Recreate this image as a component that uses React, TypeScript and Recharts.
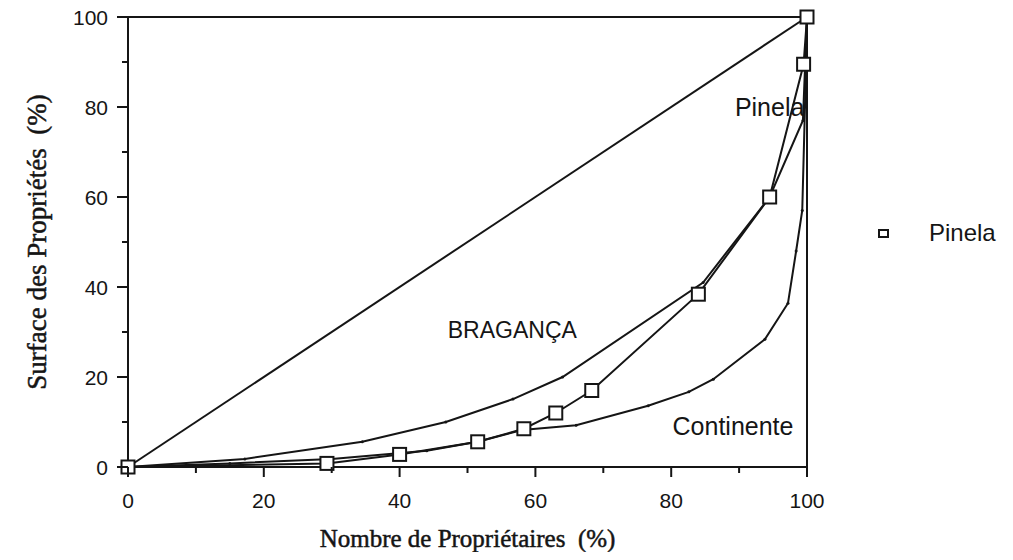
import { ComposedChart, Line, XAxis, YAxis, ReferenceLine, ReferenceDot, Legend } from "recharts";

// cumulative % of owners (x) vs cumulative % of surface (y)
const equalityOwners = [0, 100];
const equalitySurface = [0, 100];

const pinelaOwners = [0, 29.3, 40, 51.5, 58.3, 63, 68.3, 84, 94.5, 99.5, 100];
const pinelaSurface = [0, 0.8, 2.8, 5.6, 8.5, 12, 17, 38.4, 60, 89.5, 100];

const bragancaOwners = [0, 17.2, 34.5, 46.8, 56.7, 64, 84.7, 94.5, 99.4, 100];
const bragancaSurface = [0, 1.8, 5.6, 10, 15.1, 20, 41, 60, 77, 100];

const continenteOwners = [0, 15, 30, 44, 51.5, 58, 66, 76.6, 82.6, 86.2, 93.8, 97.2, 98.4, 99.3, 99.7, 100];
const continenteSurface = [0, 0.8, 1.8, 3.6, 5.6, 8.2, 9.3, 13.6, 16.7, 19.5, 28.4, 36.4, 48, 57, 80, 100];

const axisTicks = [0, 10, 20, 30, 40, 50, 60, 70, 80, 90, 100];

const zip = (xs: number[], ys: number[]) => xs.map((x, i) => ({ x, y: ys[i] }));

const ink = "#151515";
const sans = "'Liberation Sans', Arial, sans-serif";
const serif = "'Liberation Serif', 'Times New Roman', serif";

function YTick({ x, y, payload }: any) {
  const major = payload.value % 20 === 0;
  return (
    <g>
      <line x1={x} x2={x - (major ? 11 : 6)} y1={y} y2={y} stroke={ink} strokeWidth={2} />
      {major && (
        <text x={x - 20} y={y} textAnchor="end" dominantBaseline="central" fontFamily={sans} fontSize={21} fill={ink}>
          {payload.value}
        </text>
      )}
    </g>
  );
}

function XTick({ x, y, payload }: any) {
  const major = payload.value % 20 === 0;
  return (
    <g>
      <line x1={x} x2={x} y1={y} y2={y + (major ? 10 : 6)} stroke={ink} strokeWidth={2} />
      {major && (
        <text x={x} y={y + 33} textAnchor="middle" dominantBaseline="central" fontFamily={sans} fontSize={21} fill={ink}>
          {payload.value}
        </text>
      )}
    </g>
  );
}

function SquareDot(props: any) {
  const { cx, cy, index } = props;
  return <rect key={`sq-${index}`} x={cx - 6.5} y={cy - 6.5} width={13} height={13} fill="#fff" stroke={ink} strokeWidth={2} />;
}

const annotation = (value: string, size: number) => ({ value, position: "center" as const, fontFamily: sans, fontSize: size, fill: ink });

export default function App() {
  return (
    <div style={{ margin: -8, width: 1013, height: 560, background: "#fff" }}>
      <ComposedChart width={1013} height={560} margin={{ top: 17, right: 206, bottom: 33, left: 0 }}>
        <XAxis
          type="number"
          dataKey="x"
          domain={[0, 100]}
          ticks={axisTicks}
          interval={0}
          tick={<XTick />}
          tickLine={false}
          tickSize={0}
          tickMargin={0}
          height={60}
          axisLine={{ stroke: ink, strokeWidth: 2 }}
          label={{
            content: ({ viewBox }: any) => (
              <text x={viewBox.x + viewBox.width / 2} y={viewBox.y + 71} textAnchor="middle" dominantBaseline="central" fontFamily={serif} fontSize={25} fill={ink} stroke={ink} strokeWidth={0.5}>
                Nombre de Propriétaires{"\u00a0 "}(%)
              </text>
            ),
          }}
        />
        <YAxis
          type="number"
          dataKey="y"
          domain={[0, 100]}
          ticks={axisTicks}
          interval={0}
          tick={<YTick />}
          tickLine={false}
          tickSize={0}
          tickMargin={0}
          width={128}
          axisLine={{ stroke: ink, strokeWidth: 2 }}
          label={{
            content: ({ viewBox }: any) => {
              const cx = viewBox.x + 37;
              const cy = viewBox.y + viewBox.height / 2;
              return (
                <text x={cx} y={cy} transform={`rotate(-90 ${cx} ${cy})`} textAnchor="middle" dominantBaseline="central" fontFamily={serif} fontSize={27} fill={ink} stroke={ink} strokeWidth={0.5}>
                  Surface des Propriétés{"\u00a0 "}(%)
                </text>
              );
            },
          }}
        />
        <ReferenceLine y={100} stroke={ink} strokeWidth={2} />
        <ReferenceLine x={100} stroke={ink} strokeWidth={2} />

        <Line data={zip(equalityOwners, equalitySurface)} dataKey="y" type="linear" stroke={ink} strokeWidth={2} dot={false} legendType="none" isAnimationActive={false} />
        <Line data={zip(bragancaOwners, bragancaSurface)} dataKey="y" type="linear" stroke={ink} strokeWidth={2} dot={{ r: 1.5, fill: ink, stroke: "none" }} legendType="none" isAnimationActive={false} />
        <Line data={zip(continenteOwners, continenteSurface)} dataKey="y" type="linear" stroke={ink} strokeWidth={2} dot={{ r: 1.5, fill: ink, stroke: "none" }} legendType="none" isAnimationActive={false} />
        <Line data={zip(pinelaOwners, pinelaSurface)} dataKey="y" name="Pinela" type="linear" stroke={ink} strokeWidth={2} dot={<SquareDot />} isAnimationActive={false} />

        <ReferenceDot x={94.5} y={80} r={0} fill="none" stroke="none" label={annotation("Pinela", 25)} />
        <ReferenceDot x={56.6} y={30.5} r={0} fill="none" stroke="none" label={annotation("BRAGANÇA", 23)} />
        <ReferenceDot x={89.1} y={9} r={0} fill="none" stroke="none" label={annotation("Continente", 25)} />

        <Legend
          layout="horizontal"
          verticalAlign="middle"
          align="center"
          wrapperStyle={{ left: 878, top: 219, width: "auto" }}
          content={() => (
            <div style={{ display: "flex", alignItems: "center", fontFamily: sans, fontSize: 24, color: ink }}>
              <span style={{ display: "inline-block", width: 7, height: 5, border: `2.5px solid ${ink}`, marginRight: 40 }} />
              Pinela
            </div>
          )}
        />
      </ComposedChart>
    </div>
  );
}
